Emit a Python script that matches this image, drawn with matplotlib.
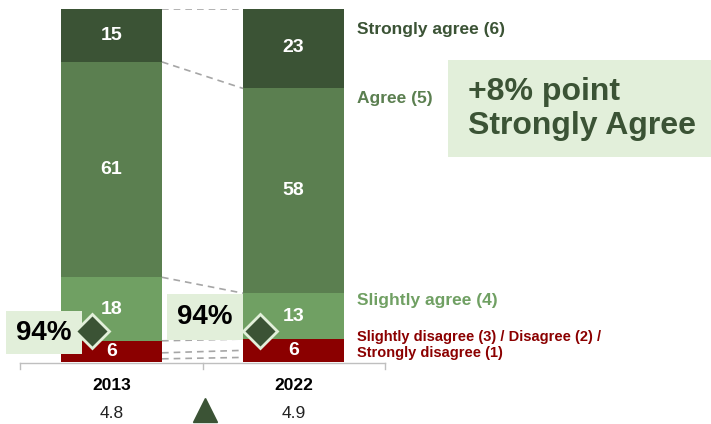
import matplotlib
matplotlib.use("Agg")
import matplotlib.pyplot as plt
from matplotlib.patches import Rectangle
import numpy as np

plt.rcParams['font.family'] = ['Liberation Sans', 'DejaVu Sans']

# ---- data ----
categories = ['2013', '2022']
strongly_disagree = [0.9, 1.3]
disagree = [1.7, 2.0]
slightly_disagree = [3.4, 3.2]
slightly_agree = [18, 13]
agree = [61, 58]
strongly_agree = [15, 23]
disagree_total_labels = [6, 6]
mean_scores = ['4.8', '4.9']
top_box = ['94%', '94%']
legend_labels = ['Strongly agree (6)', 'Agree (5)', 'Slightly agree (4)',
                 'Slightly disagree (3) / Disagree (2) /\nStrongly disagree (1)']
callout = '+8% point\nStrongly Agree'

# ---- style ----
c_sa = '#3b5335'
c_a = '#5b7f50'
c_sla = '#70a063'
c_dis = '#8b0000'
box_bg = '#e2efda'
dash_c = '#a6a6a6'

W, H = 711, 424
fig = plt.figure(figsize=(W / 100, H / 100), dpi=100)
px_per_unit = (362 - 9) / 100.0
x0px, spacing = 111.5, 182.0
ax = fig.add_axes([0, (H - 362) / H, 1, (362 - 9) / H])
ax.set_xlim(-x0px / spacing, (W - x0px) / spacing)
ax.set_ylim(0, 100)
ax.axis('off')


def px2x(p):
    return (p - x0px) / spacing


def py2y(p):
    return (362 - p) / px_per_unit


x = np.arange(len(categories))
width = 101 / spacing

layers = [
    (strongly_disagree, c_dis),
    (disagree, c_dis),
    (slightly_disagree, c_dis),
    (slightly_agree, c_sla),
    (agree, c_a),
    (strongly_agree, c_sa),
]
bottom = np.zeros(len(categories))
boundaries = []
for vals, col in layers:
    vals = np.array(vals, dtype=float)
    ax.bar(x, vals, width=width, bottom=bottom, color=col, edgecolor='none', linewidth=0)
    bottom = bottom + vals
    boundaries.append(bottom.copy())

# connector dashed lines
for b in boundaries:
    ax.plot([x[0] + width / 2, x[1] - width / 2], [min(b[0], 100), min(b[1], 100)],
            color=dash_c, lw=1.2, ls=(0, (4, 3)), zorder=1)

# value labels
dis_tot = np.array(strongly_disagree) + np.array(disagree) + np.array(slightly_disagree)
for i in range(len(categories)):
    ax.text(x[i], dis_tot[i] / 2, str(disagree_total_labels[i]), ha='center', va='center',
            color='white', fontsize=14, fontweight='bold')
    base = dis_tot[i]
    for vals in (slightly_agree, agree, strongly_agree):
        ax.text(x[i], base + vals[i] / 2, str(vals[i]), ha='center', va='center',
                color='white', fontsize=14, fontweight='bold')
        base += vals[i]

# axis line with ticks
ax.plot([px2x(20), px2x(385)], [py2y(363), py2y(363)], color='#bfbfbf', lw=1, clip_on=False)
for tp in (20, 203, 385):
    ax.plot([px2x(tp), px2x(tp)], [py2y(363), py2y(369)], color='#bfbfbf', lw=1, clip_on=False)

# category labels and means
for i in range(len(categories)):
    ax.text(x[i], py2y(385), categories[i], ha='center', va='center', fontsize=12.5,
            fontweight='bold', color='black')
    ax.text(x[i], py2y(413), mean_scores[i], ha='center', va='center', fontsize=12.5,
            color='#222222')
ax.plot([px2x(205)], [py2y(410)], marker='^', markersize=17, color=c_sa, clip_on=False)

# 94% boxes and diamonds
boxes = [(6, 311, 82, 354), (167, 294, 243, 340)]
diamonds = [(92, 331), (260, 331)]
for i, (l, t, r, bt) in enumerate(boxes):
    ax.add_patch(Rectangle((px2x(l), py2y(bt)), px2x(r) - px2x(l), py2y(t) - py2y(bt),
                           facecolor=box_bg, edgecolor='none', clip_on=False, zorder=3))
    ax.text(px2x((l + r) / 2), py2y((t + bt) / 2), top_box[i], ha='center', va='center',
            fontsize=20, fontweight='bold', color='black', zorder=4)
    dx, dy = diamonds[i]
    ax.plot([px2x(dx)], [py2y(dy)], marker='D', markersize=17, color=c_sa,
            markeredgecolor=box_bg, markeredgewidth=2, clip_on=False, zorder=5)

# legend labels on the right
lx = px2x(357)
ax.text(lx, py2y(30), legend_labels[0], ha='left', va='center', fontsize=12.5,
        fontweight='bold', color=c_sa)
ax.text(lx, py2y(98), legend_labels[1], ha='left', va='center', fontsize=12.5,
        fontweight='bold', color=c_a)
ax.text(lx, py2y(300), legend_labels[2], ha='left', va='center', fontsize=12.5,
        fontweight='bold', color=c_sla)
ax.text(lx, py2y(345), legend_labels[3], ha='left', va='center', fontsize=10.5,
        fontweight='bold', color=c_dis, linespacing=1.2)

# callout box
ax.add_patch(Rectangle((px2x(448), py2y(157)), px2x(711) - px2x(448), py2y(60) - py2y(157),
                       facecolor=box_bg, edgecolor='none', clip_on=False, zorder=3))
ax.text(px2x(468), py2y(109), callout, ha='left', va='center', fontsize=23,
        fontweight='bold', color=c_sa, linespacing=1.15, zorder=4)

fig.savefig('out.png', dpi=100)
